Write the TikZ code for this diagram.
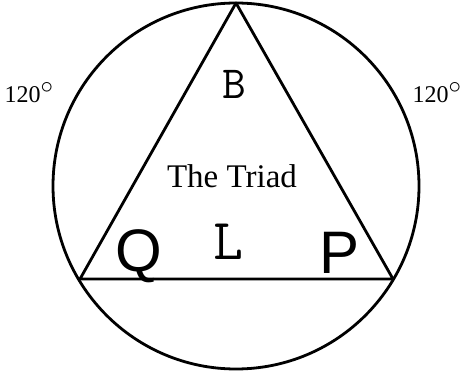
\documentclass[tikz,border=0pt]{standalone}
\usepackage{fontspec}
\setmainfont{Liberation Serif}
\newfontfamily\sansQP{Liberation Sans}
\usepackage{tikz}
\usetikzlibrary{positioning}

\begin{document}
\begin{tikzpicture}[
  x=1pt,y=-1pt,
  edge/.style={line width=2.8pt,line cap=round,line join=round},
  angle/.style={anchor=base,inner sep=0pt,font=\fontsize{24}{24}\selectfont},
  big/.style={anchor=base,inner sep=0pt,font=\sansQP\fontsize{60}{60}\selectfont},
  mono/.style={anchor=base,inner sep=0pt,font=\ttfamily}
]
  \useasboundingbox (0,0) rectangle (462,371);

  \coordinate (c) at (236,186);
  \coordinate (top) at (236,3);
  \coordinate (lft) at (80,279);
  \coordinate (rgt) at (393,279);

  \draw[edge] (c) circle[radius=183];
  \draw[edge] (top) -- (lft) -- (rgt) -- cycle;

  \node[angle] (al) at (29,103) {120{\fontsize{34}{34}\selectfont$^{\circ}$}};
  \node[angle] (ar) at (437,103) {120{\fontsize{34}{34}\selectfont$^{\circ}$}};

  \node[mono,font=\ttfamily\fontsize{46}{46}\selectfont] (b) at (234,99) {B};
  \node[anchor=base,inner sep=0pt,font=\fontsize{33}{33}\selectfont] (title) at (232,188) {The Triad};
  \node[big] (q) at (139,271) {Q};
  \node[mono,font=\ttfamily\fontsize{58}{58}\selectfont] (l) at (228,259) {L};
  \node[big] (p) at (340,273) {P};
\end{tikzpicture}
\end{document}
